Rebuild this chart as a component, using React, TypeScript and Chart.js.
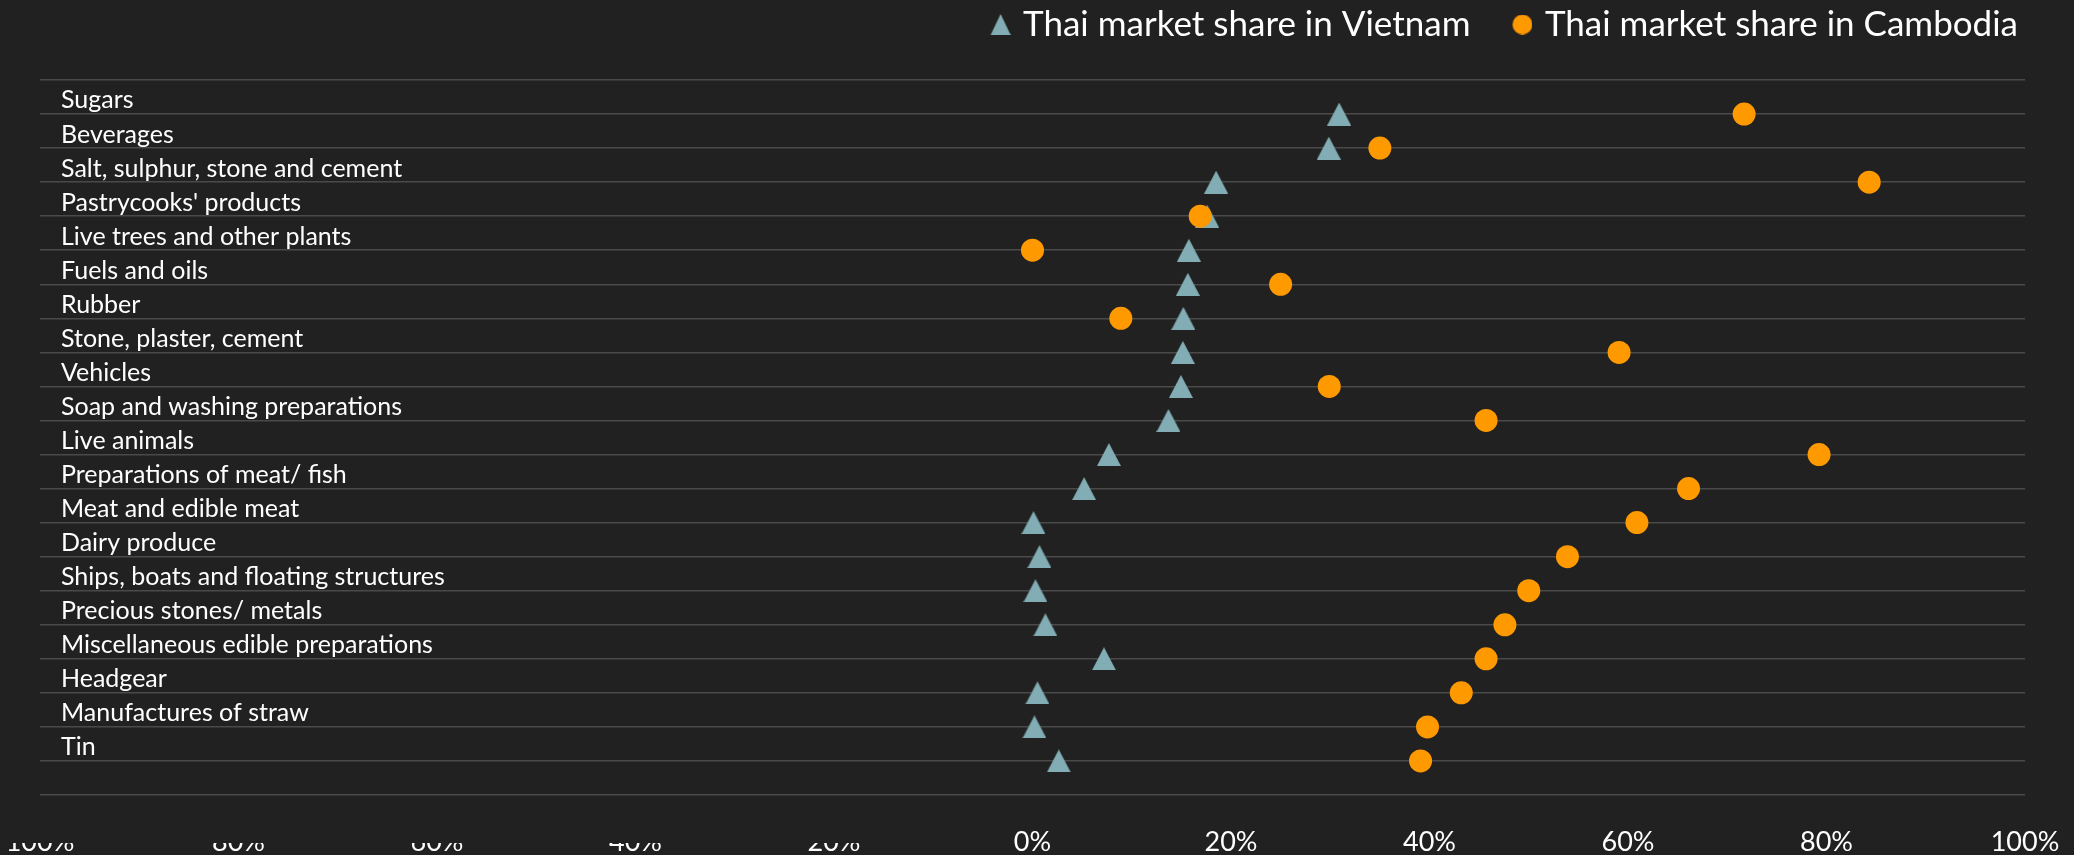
import { useEffect, useRef } from 'react';
import { Chart, registerables } from 'chart.js';

Chart.register(...registerables);

const categories = [
  'Sugars',
  'Beverages',
  'Salt, sulphur, stone and cement',
  "Pastrycooks' products",
  'Live trees and other plants',
  'Fuels and oils',
  'Rubber',
  'Stone, plaster, cement',
  'Vehicles',
  'Soap and washing preparations',
  'Live animals',
  'Preparations of meat/ fish',
  'Meat and edible meat',
  'Dairy produce',
  'Ships, boats and floating structures',
  'Precious stones/ metals',
  'Miscellaneous edible preparations',
  'Headgear',
  'Manufactures of straw',
  'Tin',
];
const vietnamShare = [30.9, 29.85, 18.5, 17.6, 15.75, 15.65, 15.2, 15.15, 14.95, 13.7, 7.7, 5.2, 0.1, 0.7, 0.3, 1.3, 7.2, 0.5, 0.2, 2.65];
const cambodiaShare = [71.7, 35.0, 84.3, 16.9, 0, 25.0, 8.9, 59.1, 29.9, 45.7, 79.25, 66.1, 60.9, 53.9, 50.0, 47.6, 45.7, 43.2, 39.8, 39.1];
const seriesNames = ['Thai market share in Vietnam', 'Thai market share in Cambodia'];
const xTickValues = [-100, -80, -60, -40, -20, 0, 20, 40, 60, 80, 100];

const BG = '#212121';
const TRI_COLOR = '#82adb4';
const DOT_COLOR = '#ff9900';
const FONT = 'Lato';

function makeTriangle(w: number, h: number, canvasW: number, color: string) {
  const c = document.createElement('canvas');
  c.width = canvasW;
  c.height = h;
  const ctx = c.getContext('2d')!;
  ctx.fillStyle = color;
  ctx.beginPath();
  ctx.moveTo(canvasW - w, h);
  ctx.lineTo(canvasW - w / 2, 0);
  ctx.lineTo(canvasW, h);
  ctx.closePath();
  ctx.fill();
  return c;
}

function makeDot(d: number, canvasW: number, color: string) {
  const c = document.createElement('canvas');
  c.width = canvasW;
  c.height = d;
  const ctx = c.getContext('2d')!;
  ctx.fillStyle = color;
  ctx.beginPath();
  ctx.arc(canvasW - d / 2, d / 2, d / 2, 0, Math.PI * 2);
  ctx.fill();
  return c;
}

export default function App() {
  const ref = useRef<HTMLCanvasElement | null>(null);

  useEffect(() => {
    if (!ref.current) return;
    Chart.defaults.font.family = FONT;
    const triPoint = makeTriangle(24, 23, 24, TRI_COLOR);
    const legendBoxW = 50;
    const legendImgW = 60;
    const legendTri = makeTriangle(20, 21, legendImgW, TRI_COLOR);
    const legendDot = makeDot(20, legendImgW, DOT_COLOR);

    const coverPlugin = {
      id: 'coverNeg',
      afterDraw(chart: any) {
        const { ctx, chartArea, scales } = chart;
        ctx.save();
        ctx.fillStyle = BG;
        const xEnd = scales.x.getPixelForValue(-10);
        ctx.fillRect(0, chartArea.bottom + 2, xEnd, 46);
        ctx.restore();
      },
    };

    const chart = new Chart(ref.current, {
      type: 'scatter',
      data: {
        datasets: [
          {
            label: seriesNames[0],
            data: vietnamShare.map((v, i) => ({ x: v, y: i + 1 })),
            pointStyle: triPoint as any,
            backgroundColor: TRI_COLOR,
            borderColor: TRI_COLOR,
            order: 2,
            yAxisID: 'y',
            xAxisID: 'x',
          },
          {
            label: seriesNames[1],
            data: cambodiaShare.map((v, i) => ({ x: v, y: i + 1 })),
            pointStyle: 'circle',
            pointRadius: 11.5,
            pointBorderWidth: 0,
            backgroundColor: DOT_COLOR,
            borderColor: DOT_COLOR,
            order: 1,
            yAxisID: 'y',
            xAxisID: 'x',
          },
        ],
      },
      options: {
        animation: false,
        responsive: false,
        devicePixelRatio: 1,
        layout: { padding: { left: 40, right: 49, top: 0, bottom: 0 } },
        plugins: {
          tooltip: { enabled: false },
          legend: {
            display: true,
            position: 'top',
            align: 'end',
            labels: {
              usePointStyle: true,
              pointStyleWidth: legendBoxW,
              padding: 7,
              color: '#ffffff',
              font: { family: FONT, size: 35 },
              generateLabels: () => [
                {
                  text: seriesNames[0],
                  pointStyle: legendTri as any,
                  fillStyle: TRI_COLOR,
                  strokeStyle: TRI_COLOR,
                  lineWidth: 0,
                  hidden: false,
                  datasetIndex: 0,
                  fontColor: '#ffffff',
                },
                {
                  text: seriesNames[1],
                  pointStyle: legendDot as any,
                  fillStyle: DOT_COLOR,
                  strokeStyle: DOT_COLOR,
                  lineWidth: 0,
                  hidden: false,
                  datasetIndex: 1,
                  fontColor: '#ffffff',
                },
              ],
            },
          },
        },
        scales: {
          x: {
            type: 'linear',
            position: 'bottom',
            min: -100,
            max: 100,
            afterBuildTicks: (s: any) => {
              s.ticks = xTickValues.map((v) => ({ value: v }));
            },
            ticks: {
              color: '#ffffff',
              font: { family: FONT, size: 27 },
              padding: 31,
              maxRotation: 0,
              autoSkip: false,
              callback: (v: any) => Math.abs(Number(v)) + '%',
            },
            grid: { display: false, drawTicks: false },
            border: { display: false },
            afterFit: (s: any) => {
              s.height = 60;
              s.paddingLeft = 0;
              s.paddingRight = 0;
            },
          },
          xTop: {
            type: 'linear',
            position: 'top',
            min: -100,
            max: 100,
            ticks: { display: false },
            grid: { display: false, drawTicks: false },
            border: { display: false },
            afterFit: (s: any) => {
              const lh = s.chart.legend ? s.chart.legend.height : 0;
              s.height = Math.max(0, 80 - lh);
              s.paddingLeft = 0;
              s.paddingRight = 0;
            },
          },
          y: {
            type: 'linear',
            position: 'left',
            min: 0,
            max: 21,
            reverse: true,
            ticks: { display: false, stepSize: 1 },
            grid: { color: '#4a4a4a', lineWidth: 1.5, drawTicks: false },
            border: { display: false },
            afterFit: (s: any) => {
              s.width = 0;
            },
          },
          yLabels: {
            type: 'linear',
            position: 'left',
            min: 0,
            max: 21,
            reverse: true,
            afterBuildTicks: (s: any) => {
              s.ticks = categories.map((_, i) => ({ value: i + 0.6 }));
            },
            ticks: {
              mirror: true,
              padding: 21,
              color: '#ffffff',
              font: { family: FONT, size: 25 },
              autoSkip: false,
              callback: (_v: any, i: number) => categories[i],
            },
            grid: { display: false, drawTicks: false },
            border: { display: false },
            afterFit: (s: any) => {
              s.width = 0;
            },
          },
        },
      } as any,
      plugins: [coverPlugin],
    });

    return () => chart.destroy();
  }, []);

  return (
    <div style={{ position: 'fixed', left: 0, top: 0, width: 2074, height: 855, background: BG }}>
      <canvas ref={ref} width={2074} height={855} style={{ display: 'block' }} />
    </div>
  );
}
